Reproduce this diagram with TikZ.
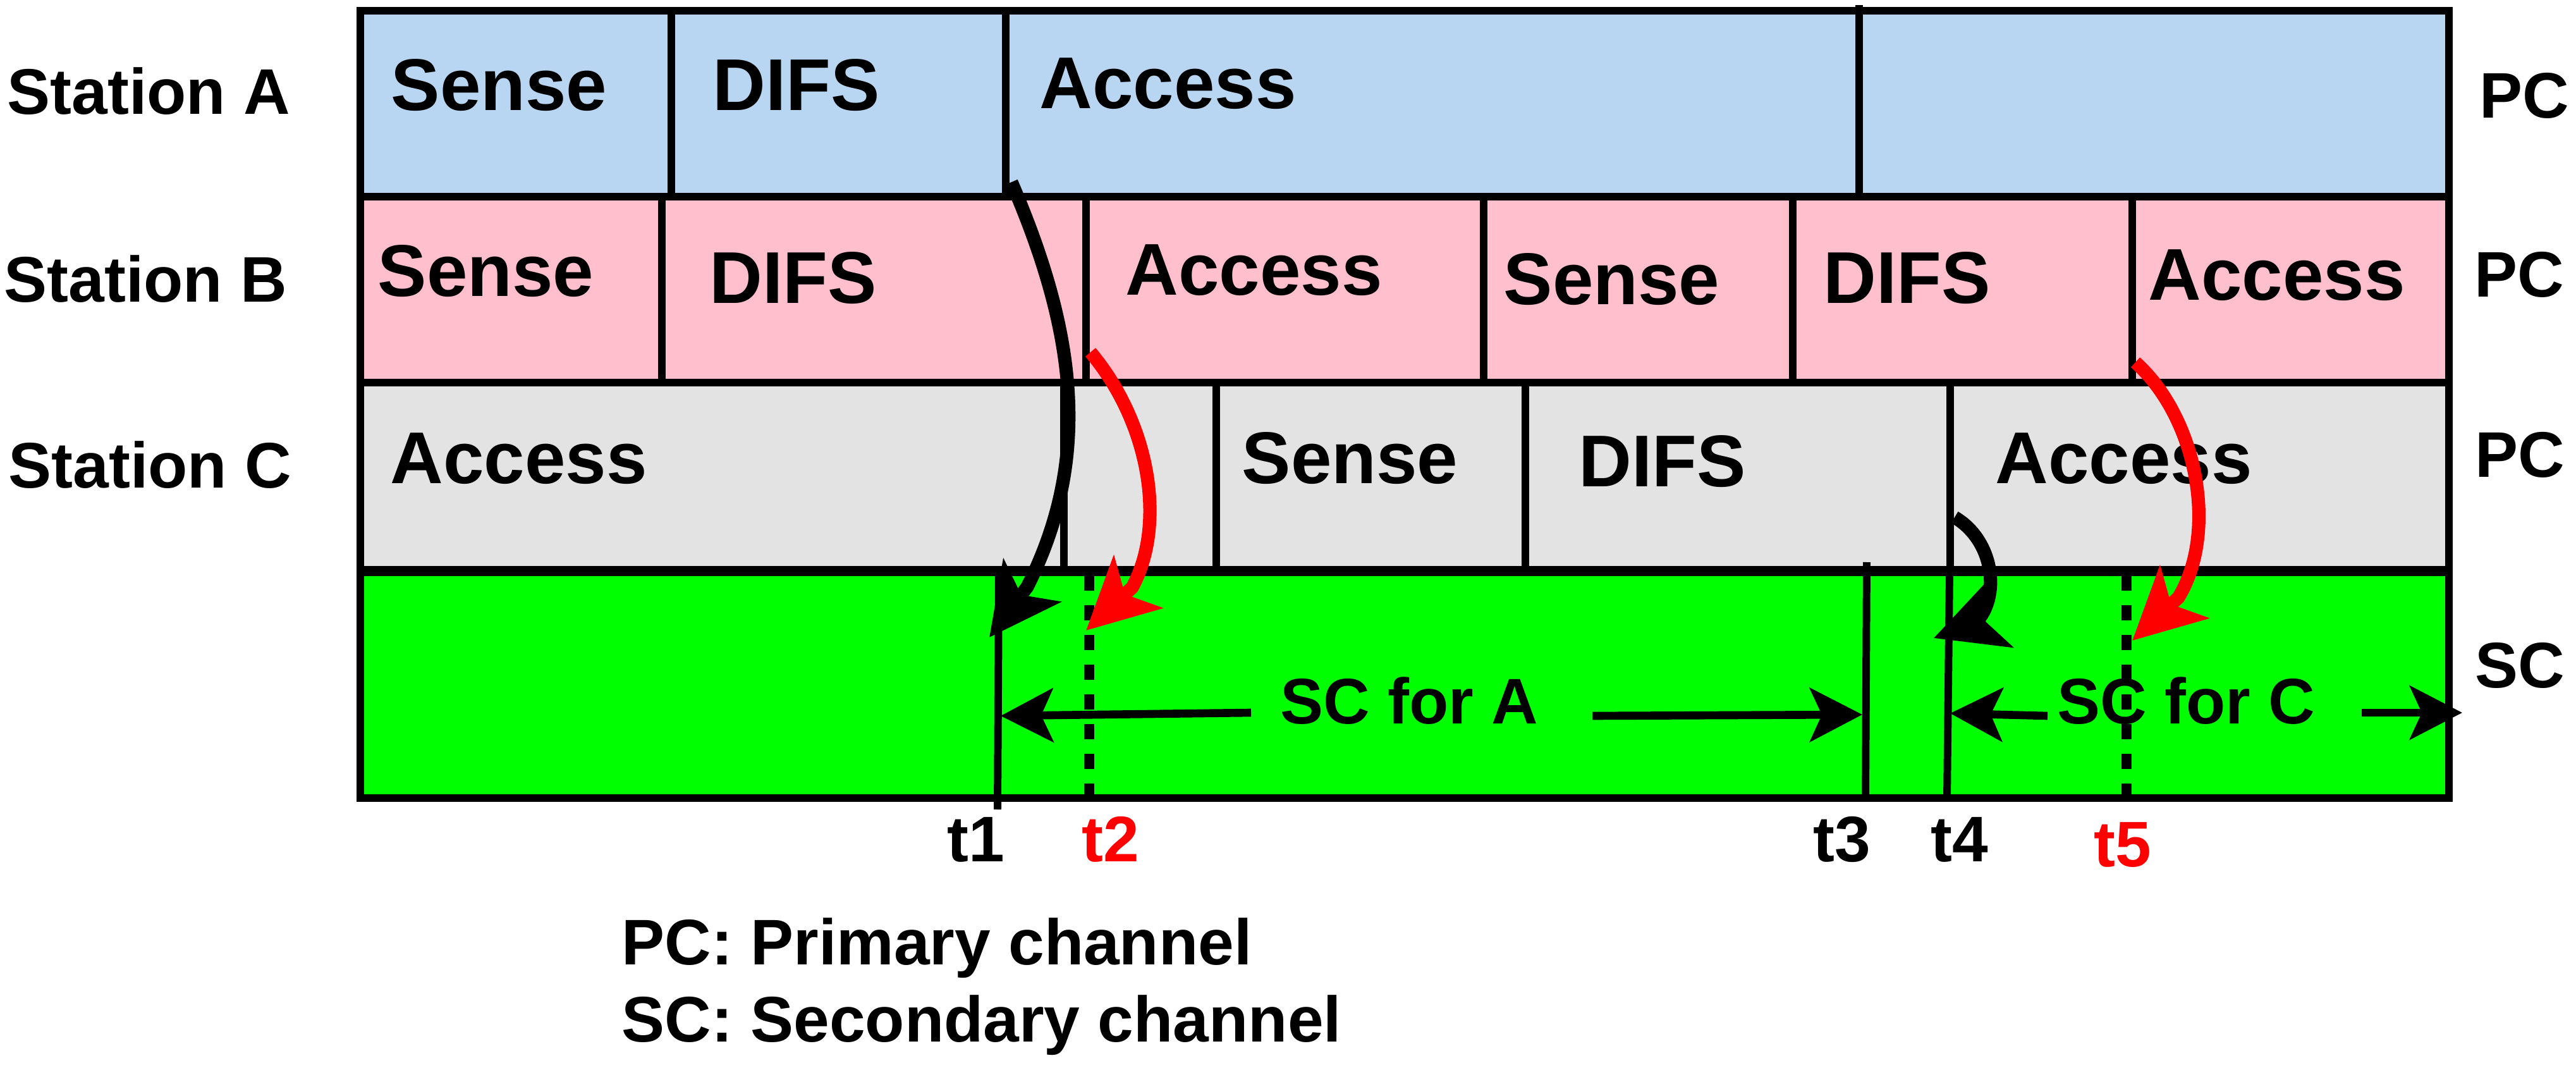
\documentclass[tikz,border=0pt]{standalone}
\usepackage{fontspec}
\setmainfont{Liberation Sans}
\usetikzlibrary{arrows.meta}

\definecolor{rowA}{RGB}{184,214,241}
\definecolor{rowB}{RGB}{255,191,204}
\definecolor{rowC}{RGB}{227,227,227}
\definecolor{rowSC}{RGB}{0,255,0}

\begin{document}
\begin{tikzpicture}[
  cell/.style={anchor=base west, inner sep=0pt, font=\fontsize{33}{40}\selectfont\bfseries},
  lab/.style={anchor=base west, inner sep=0pt, font=\fontsize{29}{35}\selectfont\bfseries},
  tlab/.style={anchor=base, inner sep=0pt, font=\fontsize{29}{35}\selectfont\bfseries},
  border/.style={line width=3.4pt},
  tline/.style={line width=3.4pt},
  tdash/.style={line width=4.7pt, dash pattern=on 0.24cm off 0.23cm},
  scarrow/.style={line width=3.6pt, -{Stealth[length=0.83cm, width=0.85cm, inset=0.19cm]}},
  bigarrow/.style={line width=6pt, -{Stealth[length=1.12cm, width=1.12cm, inset=0.28cm]}},
]
\useasboundingbox (0,0) rectangle (40.75,-16.92);

% rows
\filldraw[fill=rowA, border] (5.70,-0.17) rectangle (38.74,-3.11);
\filldraw[fill=rowB, border] (5.70,-3.11) rectangle (38.74,-6.05);
\filldraw[fill=rowC, border] (5.70,-6.05) rectangle (38.74,-9.03);
\filldraw[fill=rowSC, border] (5.70,-9.03) rectangle (38.74,-12.62);
\draw[line width=4.8pt] (5.70,-9.03) -- (38.74,-9.03);

% slot borders
\draw[tline] (10.62,-0.17) -- (10.62,-3.11);
\draw[tline] (15.91,-0.17) -- (15.91,-3.11);
\draw[tline] (29.41,-0.08) -- (29.41,-3.11);
\draw[tline] (10.47,-3.11) -- (10.47,-6.05);
\draw[tline] (17.18,-3.11) -- (17.18,-6.05);
\draw[tline] (23.47,-3.11) -- (23.47,-6.05);
\draw[tline] (28.36,-3.11) -- (28.36,-6.05);
\draw[tline] (33.73,-3.11) -- (33.73,-6.05);
\draw[tline] (16.83,-6.05) -- (16.83,-9.03);
\draw[tline] (19.24,-6.05) -- (19.24,-9.03);
\draw[tline] (24.13,-6.05) -- (24.13,-9.03);
\draw[tline] (30.85,-6.05) -- (30.85,-9.03);

% time marks on SC
\coordinate (t1top) at (15.80,-9.03);
\coordinate (t1bot) at (15.78,-12.80);
\coordinate (t2top) at (17.23,-9.10);
\coordinate (t2bot) at (17.23,-12.62);
\coordinate (t3top) at (29.53,-8.89);
\coordinate (t3bot) at (29.51,-12.62);
\coordinate (t4top) at (30.84,-9.03);
\coordinate (t4bot) at (30.80,-12.62);
\coordinate (t5top) at (33.64,-9.10);
\coordinate (t5bot) at (33.64,-12.69);
\draw[tline] (t1top) -- (t1bot);
\draw[tdash] (t2top) -- (t2bot);
\draw[tline] (t3top) -- (t3bot);
\draw[tline] (t4top) -- (t4bot);
\draw[tdash] (t5top) -- (t5bot);

% station names
\node[lab] (staA) at (0.11,-1.81) {Station A};
\node[lab] (staB) at (0.06,-4.78) {Station B};
\node[lab] (staC) at (0.13,-7.72) {Station C};

% channel names
\node[lab] (pcA) at (39.22,-1.87) {PC};
\node[lab] (pcB) at (39.14,-4.70) {PC};
\node[lab] (pcC) at (39.15,-7.54) {PC};
\node[lab] (scD) at (39.15,-10.87) {SC};

% slot texts
\node[cell] (senseA) at (6.18,-1.75) {Sense};
\node[cell] (difsA) at (11.27,-1.75) {DIFS};
\node[cell] (accA) at (16.44,-1.72) {Access};
\node[cell] (senseB) at (5.97,-4.69) {Sense};
\node[cell] (difsB) at (11.22,-4.80) {DIFS};
\node[cell] (accB) at (17.80,-4.67) {Access};
\node[cell] (senseBb) at (23.78,-4.82) {Sense};
\node[cell] (difsBb) at (28.84,-4.80) {DIFS};
\node[cell] (accBb) at (33.98,-4.75) {Access};
\node[cell] (accC) at (6.17,-7.64) {Access};
\node[cell] (senseC) at (19.64,-7.64) {Sense};
\node[cell] (difsC) at (24.97,-7.69) {DIFS};
\node[cell] (accCb) at (31.56,-7.64) {Access};

% SC usage
\node[lab] (scA) at (20.25,-11.44) {SC for A};
\node[lab] (scC) at (32.54,-11.44) {SC for C};
\coordinate (aL) at (19.79,-11.27);
\coordinate (aLend) at (15.83,-11.32);
\coordinate (aR) at (25.19,-11.32);
\coordinate (aRend) at (29.46,-11.30);
\coordinate (cL) at (32.39,-11.32);
\coordinate (cLend) at (30.85,-11.28);
\coordinate (cR) at (37.36,-11.27);
\coordinate (cRend) at (38.95,-11.27);
\draw[scarrow] (aL) -- (aLend);
\draw[scarrow] (aR) -- (aRend);
\draw[scarrow] (cL) -- (cLend);
\draw[scarrow] (cR) -- (cRend);

% switching arrows
\coordinate (fromA) at (16.00,-2.88);
\coordinate (toT1) at (15.65,-10.08);
\coordinate (fromB) at (17.25,-5.57);
\coordinate (toT2) at (17.18,-9.97);
\coordinate (fromC) at (30.92,-8.18);
\coordinate (toT4) at (30.59,-10.09);
\coordinate (fromBb) at (33.78,-5.73);
\coordinate (toT5) at (33.73,-10.13);
\draw[bigarrow] (fromA) .. controls (17.0,-5.2) and (17.3,-7.2) .. (16.25,-9.28) -- (toT1);
\draw[bigarrow, red] (fromB) .. controls (18.2,-6.7) and (18.45,-8.3) .. (17.91,-9.29) -- (toT2);
\draw[bigarrow] (fromC) .. controls (31.55,-8.55) and (31.65,-9.45) .. (31.25,-9.85) -- (toT4);
\draw[bigarrow, red] (fromBb) .. controls (34.75,-6.6) and (35.1,-8.4) .. (34.46,-9.45) -- (toT5);

% time labels
\node[tlab] (lt1) at (15.44,-13.62) {t1};
\node[tlab, red] (lt2) at (17.57,-13.62) {t2};
\node[tlab] (lt3) at (29.14,-13.62) {t3};
\node[tlab] (lt4) at (31.00,-13.62) {t4};
\node[tlab, red] (lt5) at (33.58,-13.70) {t5};

% legend
\node[lab] (legPC) at (9.83,-15.25) {PC: Primary channel};
\node[lab] (legSC) at (9.83,-16.47) {SC: Secondary channel};
\end{tikzpicture}
\end{document}
